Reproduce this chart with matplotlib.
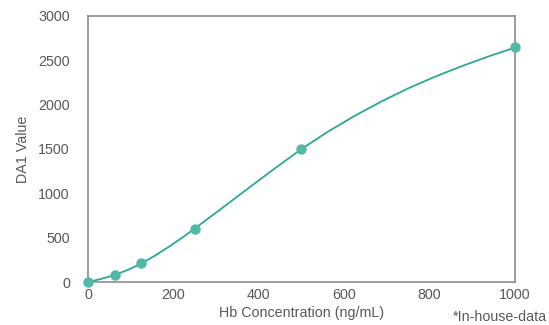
import matplotlib.pyplot as plt

# ~~~~~~~~~~~~~~~~~~~~~~~~~~~~ Données ~~~~~~~~~~~~~~~~~~~~~~~~~~~~ #
conc_pts = [0, 62.5, 125, 250, 500, 1000]
da1_pts = [0, 80, 210, 603, 1500, 2645]

# courbe ajustée
conc_fit = [0, 31, 62.5, 94, 125, 156, 187.5, 219, 250, 312.5, 375, 437.5, 500,
            562.5, 625, 687.5, 750, 812.5, 875, 937.5, 1000]
da1_fit = [0, 35, 80, 138, 210, 295, 392, 495, 603, 828, 1056, 1281, 1500,
           1697, 1875, 2037, 2184, 2315, 2434, 2543, 2645]

plt.rcParams['font.family'] = ['Liberation Sans', 'DejaVu Sans']
gris = '#595959'
teal = '#2aa898'
taille = 10.3

fig = plt.figure(figsize=(5.49, 3.25), dpi=100)
ax = fig.add_axes([0.1603, 0.1323, 0.7777, 0.8185])

ax.plot(conc_fit, da1_fit, color=teal, linewidth=1.3, zorder=2)
ax.plot(conc_pts, da1_pts, 'o', color='#52b8a6', markersize=6.5, zorder=3,
        clip_on=False)

ax.set_xlim(0, 1000)
ax.set_ylim(0, 3000)
ax.set_xticks([0, 200, 400, 600, 800, 1000])
ax.set_yticks([0, 500, 1000, 1500, 2000, 2500, 3000])
ax.tick_params(length=0, labelsize=taille, labelcolor=gris)
ax.tick_params(axis='y', pad=13)
ax.tick_params(axis='x', pad=4)

for s in ax.spines.values():
    s.set_color('#8c8c8c')
    s.set_linewidth(1.2)

ax.set_xlabel('Hb Concentration (ng/mL)', fontsize=taille, color=gris, labelpad=3)
ax.set_ylabel('DA1 Value', fontsize=taille, color=gris, labelpad=6)

fig.text(0.825, 0.025, '*In-house-data', ha='left', va='center',
         fontsize=taille, color=gris)

fig.savefig('out.png', dpi=100)
